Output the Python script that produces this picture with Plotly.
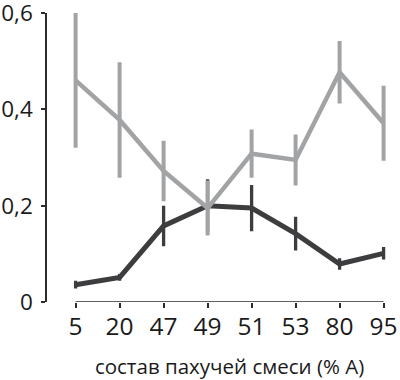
import plotly.graph_objects as go

categories = ["5", "20", "47", "49", "51", "53", "80", "95"]
light_vals = [0.46, 0.378, 0.272, 0.195, 0.308, 0.295, 0.477, 0.371]
light_err = [0.14, 0.12, 0.063, 0.057, 0.05, 0.053, 0.065, 0.078]
dark_vals = [0.036, 0.051, 0.158, 0.2, 0.195, 0.142, 0.079, 0.101]
dark_err = [0.008, 0.007, 0.042, 0.055, 0.048, 0.035, 0.012, 0.013]
y_ticks = [0, 0.2, 0.4, 0.6]
y_ticktext = ["0", "0,2", "0,4", "0,6"]
x_title = "состав пахучей смеси (% А)"

LIGHT = "#a2a3a5"
DARK = "#3d3d3f"
AX = "#2b2b2b"
FONT = "Open Sans"

xs = list(range(len(categories)))

fig = go.Figure()
fig.add_trace(go.Scatter(
    x=xs, y=dark_vals, mode="lines",
    line=dict(color=DARK, width=5),
    error_y=dict(type="data", array=dark_err, symmetric=True,
                 color=DARK, thickness=3.3, width=0),
    showlegend=False, hoverinfo="skip"))
fig.add_trace(go.Scatter(
    x=xs, y=light_vals, mode="lines",
    line=dict(color=LIGHT, width=4.5),
    error_y=dict(type="data", array=light_err, symmetric=True,
                 color=LIGHT, thickness=4, width=0),
    showlegend=False, hoverinfo="skip"))

# x axis baseline from first to last category
fig.add_shape(type="line", xref="x", yref="y", x0=xs[0], x1=xs[-1], y0=0, y1=0,
              line=dict(color=AX, width=1.5))

fig.update_layout(
    width=400, height=380,
    margin=dict(l=46, r=12, t=13, b=77.5, autoexpand=False),
    paper_bgcolor="white", plot_bgcolor="white",
    font=dict(family=FONT, color="#1a1a1a"),
    xaxis=dict(domain=[0.0737, 1], range=[-0.1, 7.1], automargin=False,
               tickmode="array", tickvals=xs, ticktext=categories,
               ticklabeloverflow="allow",
               showline=False, showgrid=False, zeroline=False,
               ticks="outside", ticklen=5, tickwidth=1.5, tickcolor=AX,
               ticklabelstandoff=-2,
               tickfont=dict(size=24.5, family=FONT, color="#1a1a1a"),
               title=dict(text=x_title, font=dict(size=20.5, family=FONT, color="#1a1a1a"),
                          standoff=18)),
    yaxis=dict(anchor="free", position=0, range=[0, 0.6], automargin=False,
               tickmode="array", tickvals=y_ticks, ticktext=y_ticktext,
               ticklabeloverflow="allow",
               showline=True, linecolor=AX, linewidth=1.5,
               showgrid=False, zeroline=False,
               ticks="outside", ticklen=4, tickwidth=1.5, tickcolor=AX,
               ticklabelstandoff=4,
               tickfont=dict(size=22.5, family=FONT, color="#1a1a1a")),
)

fig.write_html("out.html", config={"displayModeBar": False},
               post_script="document.body.style.margin='0';document.body.style.padding='0';")
